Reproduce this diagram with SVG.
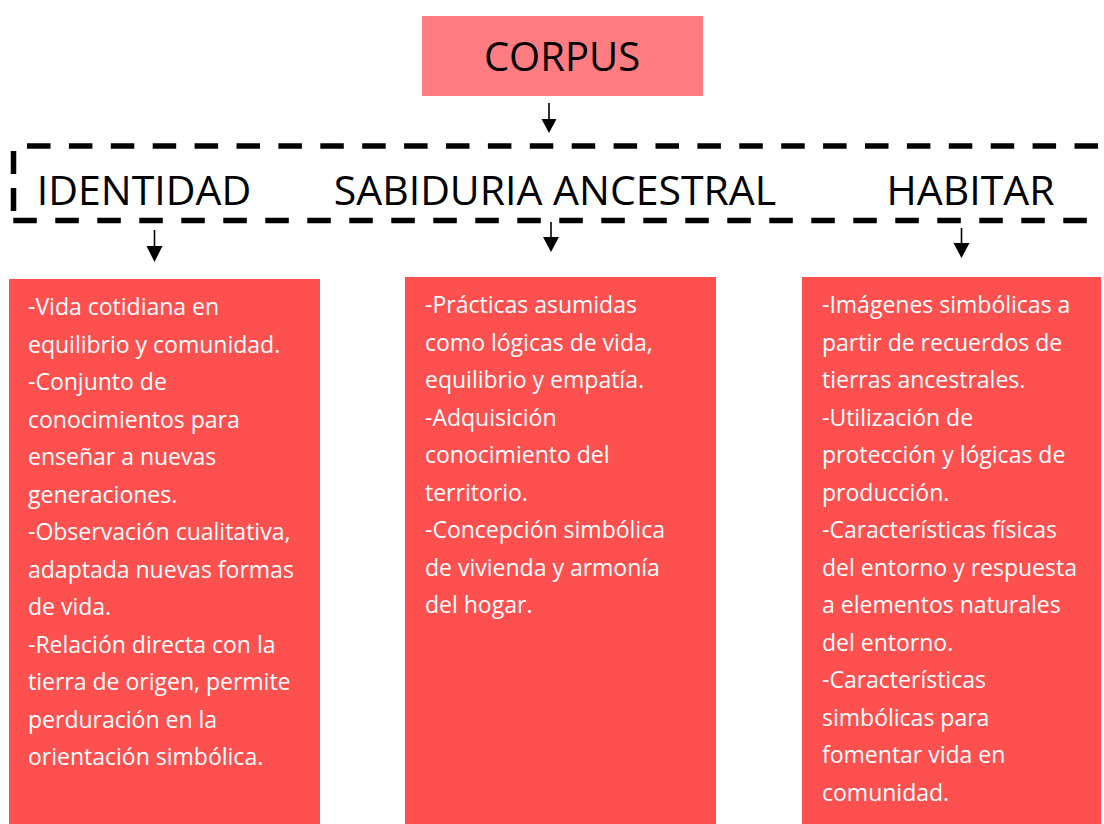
<svg xmlns="http://www.w3.org/2000/svg" width="1104" height="824" viewBox="0 0 1104 824">
<defs>
<style>
.head{font-family:"Open Sans","Liberation Sans",sans-serif;font-size:40px;fill:#000;text-anchor:middle}
.cat{font-size:41px}
.body{font-family:"Open Sans","Liberation Sans",sans-serif;font-size:23px;fill:#fff}
.box{fill:#FF5050}
.dash{stroke:#000;stroke-width:5.5;fill:none}
.arrow{stroke:#000;stroke-width:1.6;fill:none}
.head-tri{fill:#000}
</style>
</defs>
<rect width="1104" height="824" fill="#fff"/>
<g id="corpus">
<rect x="422" y="16" width="281" height="80" fill="#FF7C80"/>
<text class="head" x="562" y="71">CORPUS</text>
</g>
<g id="categories">
<line class="dash" x1="27" y1="146" x2="1110" y2="146" stroke-dasharray="23.5 18.4"/>
<line class="dash" x1="13.3" y1="220.5" x2="1110" y2="220.5" stroke-dasharray="23.5 18.5"/>
<line class="dash" x1="13.5" y1="151" x2="13.5" y2="212" stroke-dasharray="23 14"/>
<text class="head cat" id="identidad" x="144" y="205">IDENTIDAD</text>
<text class="head cat" id="sabiduria" x="555" y="205">SABIDURIA ANCESTRAL</text>
<text class="head cat" id="habitar" x="970.5" y="205">HABITAR</text>
</g>
<g id="connectors">
<line class="arrow" x1="549" y1="103" x2="549" y2="120"/>
<polygon class="head-tri" points="541.5,119 556.5,119 549,133"/>
<line class="arrow" x1="154.5" y1="230" x2="154.5" y2="247"/>
<polygon class="head-tri" points="146.5,246 162.5,246 154.5,262"/>
<line class="arrow" x1="551" y1="222" x2="551" y2="238"/>
<polygon class="head-tri" points="543,237 559,237 551,252"/>
<line class="arrow" x1="961.5" y1="228" x2="961.5" y2="244"/>
<polygon class="head-tri" points="953.5,243 969.5,243 961.5,258"/>
</g>
<g id="box-identidad">
<rect class="box" x="9" y="279" width="311" height="545"/>
<text class="body" x="28" y="315">
<tspan x="28" dy="0">-Vida cotidiana en</tspan>
<tspan x="28" dy="37.5">equilibrio y comunidad.</tspan>
<tspan x="28" dy="37.5">-Conjunto de</tspan>
<tspan x="28" dy="37.5">conocimientos para</tspan>
<tspan x="28" dy="37.5">enseñar a nuevas</tspan>
<tspan x="28" dy="37.5">generaciones.</tspan>
<tspan x="28" dy="37.5">-Observación cualitativa,</tspan>
<tspan x="28" dy="37.5">adaptada nuevas formas</tspan>
<tspan x="28" dy="37.5">de vida.</tspan>
<tspan x="28" dy="37.5">-Relación directa con la</tspan>
<tspan x="28" dy="37.5">tierra de origen, permite</tspan>
<tspan x="28" dy="37.5">perduración en la</tspan>
<tspan x="28" dy="37.5">orientación simbólica.</tspan>
</text>
</g>
<g id="box-sabiduria">
<rect class="box" x="405" y="277" width="311" height="547"/>
<text class="body" x="425" y="313.3">
<tspan x="425" dy="0">-Prácticas asumidas</tspan>
<tspan x="425" dy="37.5">como lógicas de vida,</tspan>
<tspan x="425" dy="37.5">equilibrio y empatía.</tspan>
<tspan x="425" dy="37.5">-Adquisición</tspan>
<tspan x="425" dy="37.5">conocimiento del</tspan>
<tspan x="425" dy="37.5">territorio.</tspan>
<tspan x="425" dy="37.5">-Concepción simbólica</tspan>
<tspan x="425" dy="37.5">de vivienda y armonía</tspan>
<tspan x="425" dy="37.5">del hogar.</tspan>
</text>
</g>
<g id="box-habitar">
<rect class="box" x="802" y="277" width="299" height="547"/>
<text class="body" x="822" y="313.3">
<tspan x="822" dy="0">-Imágenes simbólicas a</tspan>
<tspan x="822" dy="37.5">partir de recuerdos de</tspan>
<tspan x="822" dy="37.5">tierras ancestrales.</tspan>
<tspan x="822" dy="37.5">-Utilización de</tspan>
<tspan x="822" dy="37.5">protección y lógicas de</tspan>
<tspan x="822" dy="37.5">producción.</tspan>
<tspan x="822" dy="37.5">-Características físicas</tspan>
<tspan x="822" dy="37.5">del entorno y respuesta</tspan>
<tspan x="822" dy="37.5">a elementos naturales</tspan>
<tspan x="822" dy="37.5">del entorno.</tspan>
<tspan x="822" dy="37.5">-Características</tspan>
<tspan x="822" dy="37.5">simbólicas para</tspan>
<tspan x="822" dy="37.5">fomentar vida en</tspan>
<tspan x="822" dy="37.5">comunidad.</tspan>
</text>
</g>
</svg>
